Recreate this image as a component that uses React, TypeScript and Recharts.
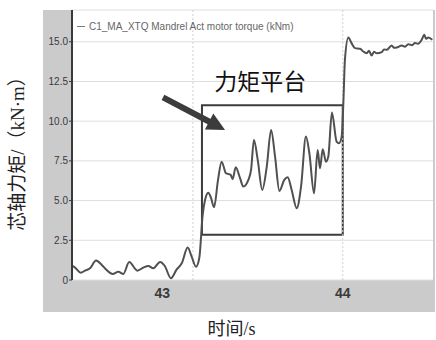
import React from 'react';
import { LineChart, Line, XAxis, YAxis, CartesianGrid, Legend, ReferenceArea, ReferenceLine } from 'recharts';

// time (s) and mandrel torque (kN·m)
const times = [
  42.5, 42.517, 42.548, 42.572, 42.6, 42.633, 42.665, 42.692, 42.725, 42.757,
  42.784, 42.817, 42.862, 42.895, 42.923, 42.95, 42.988, 43.014, 43.048, 43.08,
  43.108, 43.141, 43.163, 43.187, 43.205, 43.224, 43.237, 43.255, 43.27, 43.287,
  43.309, 43.329, 43.353, 43.379, 43.39, 43.407, 43.431, 43.449, 43.477, 43.492,
  43.508, 43.529, 43.554, 43.579, 43.603, 43.625, 43.649, 43.676, 43.695, 43.717,
  43.745, 43.769, 43.796, 43.815, 43.841, 43.861, 43.874, 43.889, 43.907, 43.92,
  43.94, 43.966, 43.979, 43.994, 44.004, 44.012, 44.031, 44.048, 44.068, 44.096,
  44.112, 44.133, 44.145, 44.16, 44.173, 44.188, 44.216, 44.229, 44.244, 44.271,
  44.284, 44.299, 44.327, 44.345, 44.363, 44.384, 44.4, 44.417, 44.437, 44.452,
  44.461, 44.474, 44.496,
];
const torque = [
  0.9, 0.78, 0.46, 0.59, 0.74, 1.22, 0.95, 0.63, 0.38, 0.52,
  0.38, 1.13, 0.59, 0.78, 0.88, 0.74, 1.13, 0.88, 0.11, 0.67,
  1.05, 2.04, 1.47, 0.84, 1.37, 4.1, 5.04, 5.5, 5.17, 4.58,
  6.3, 7.45, 6.72, 6.62, 6.35, 7.1, 6.41, 5.88, 6.3, 6.93,
  8.82, 7.56, 5.67, 7.14, 9.45, 7.77, 5.61, 6.3, 6.47, 5.67,
  4.52, 5.88, 9.03, 7.98, 5.46, 8.19, 7.04, 8.24, 7.45, 7.77,
  10.54, 8.71, 8.61, 9.03, 11.34, 13.86, 15.27, 14.93, 14.6, 14.56,
  14.4, 14.28, 14.43, 14.13, 14.37, 14.28, 14.35, 14.52, 14.49, 14.76,
  14.62, 14.64, 14.76, 14.68, 14.85, 14.78, 14.92, 14.87, 15.12, 15.44,
  15.19, 15.27, 15.12,
];
const yTicks = [0, 2.5, 5, 7.5, 10, 12.5, 15];
const xTicks = [43, 44];
const vGrid = [43.17, 44];
const plateau = { x1: 43.22, x2: 44.0, y1: 2.85, y2: 11.0 };
const arrow = { from: { x: 43.004, y: 11.5 }, to: { x: 43.348, y: 9.45 } };
const seriesName = 'C1_MA_XTQ Mandrel Act motor torque (kNm)';

const rows = times.map((t, i) => ({ t, torque: torque[i] }));

const cjk = '"Liberation Serif", "Noto Sans CJK SC", serif';

const Arrow = (p: any) => {
  const { x1, y1, x2, y2 } = p;
  const dx = x2 - x1;
  const dy = y2 - y1;
  const len = Math.sqrt(dx * dx + dy * dy);
  const ux = dx / len;
  const uy = dy / len;
  const head = 18;
  const bx = x2 - ux * head;
  const by = y2 - uy * head;
  const w = 9;
  return (
    <g>
      <line x1={x1} y1={y1} x2={bx + ux * 2} y2={by + uy * 2} stroke="#3c3c3c" strokeWidth={6} />
      <polygon
        points={`${x2},${y2} ${bx - uy * w},${by + ux * w} ${bx + uy * w},${by - ux * w}`}
        fill="#3c3c3c"
      />
    </g>
  );
};

const LegendLine = () => (
  <div style={{ display: 'flex', alignItems: 'center', fontFamily: '"Liberation Sans", Arial, sans-serif', fontSize: 10, color: '#666', whiteSpace: 'nowrap' }}>
    <span style={{ display: 'inline-block', width: 8, height: 1.5, background: '#777', marginRight: 4 }} />
    {seriesName}
  </div>
);

export default function App() {
  return (
    <div style={{ position: 'absolute', left: 0, top: 0, width: 436, height: 340, background: '#fff' }}>
      <div style={{ position: 'absolute', left: 43, top: 10, width: 392, height: 302, background: '#cbcbcb' }} />
      <LineChart
        width={436}
        height={340}
        data={rows}
        margin={{ top: 10, right: 3, bottom: 28, left: 43 }}
        style={{ position: 'absolute', left: 0, top: 0 }}
      >
        <CartesianGrid vertical={false} stroke="#dedede" fill="#fff" />
        <XAxis
          dataKey="t"
          type="number"
          domain={[42.5, 44.5]}
          ticks={xTicks}
          height={32}
          axisLine={false}
          tickLine={false}
          tickSize={0}
          tickMargin={8}
          tick={{ fontSize: 14, fontWeight: 'bold', fill: '#3a3a3a', fontFamily: '"Liberation Sans", Arial, sans-serif' }}
          label={{ value: '时间/s', position: 'bottom', offset: 10, dx: -21, fontSize: 18, fill: '#222', fontFamily: cjk }}
        />
        <YAxis
          type="number"
          domain={[0, 17]}
          ticks={yTicks}
          width={29}
          axisLine={{ stroke: '#3a3a3a', strokeWidth: 2 }}
          tickLine={{ stroke: '#3a3a3a' }}
          tickSize={3}
          tickMargin={1}
          tickFormatter={(v: number) => (v === 0 ? '0' : v.toFixed(1))}
          tick={{ fontSize: 10, fill: '#3a3a3a', fontFamily: '"Liberation Sans", Arial, sans-serif' }}
          label={{ value: '芯轴力矩/（kN·m）', angle: -90, position: 'center', dx: -40, dy: 4, fontSize: 19, fill: '#222', fontFamily: cjk }}
        />
        {vGrid.map((x) => (
          <ReferenceLine key={x} x={x} stroke="#cfcfcf" strokeDasharray="2 2" />
        ))}
        <Legend
          layout="horizontal"
          verticalAlign="middle"
          align="center"
          wrapperStyle={{ top: 21, left: 77, width: 'auto' }}
          content={<LegendLine />}
        />
        <ReferenceArea
          x1={plateau.x1}
          x2={plateau.x2}
          y1={plateau.y1}
          y2={plateau.y2}
          fill="none"
          stroke="#3c3c3c"
          strokeWidth={2}
          label={{ value: '力矩平台', position: 'top', offset: 15, dx: -12, fontSize: 23, fill: '#111', fontFamily: '"Noto Sans CJK SC", sans-serif' }}
        />
        <ReferenceLine
          segment={[arrow.from, arrow.to]}
          shape={Arrow}
        />
        <Line
          type="monotone"
          dataKey="torque"
          stroke="#505050"
          strokeWidth={2}
          dot={false}
          isAnimationActive={false}
        />
      </LineChart>
    </div>
  );
}
